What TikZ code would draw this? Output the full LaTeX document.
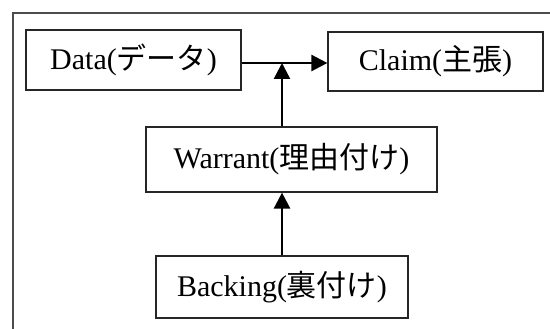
\documentclass[tikz,border=0pt]{standalone}
\usepackage{fontspec}
\setmainfont{Liberation Serif}
\newfontfamily\cjk{Noto Sans CJK JP}
\usetikzlibrary{arrows.meta}
\begin{document}
\begin{tikzpicture}[x=1pt,y=-1pt,
  box/.style={draw=black!85, line width=1.2pt, inner sep=0pt, font=\fontsize{30}{34}\selectfont},
  conn/.style={line width=2.5pt, -{Triangle[length=16pt,width=16pt]}},
  frame/.style={line width=1.2pt, draw=black!70}]
\useasboundingbox (0,0) rectangle (550,329);
\draw[frame] (13,329) -- (13,13) -- (550,13);
\node[box, minimum width=215pt, minimum height=60pt] (data) at (133.5,60) {Data({\cjk データ})};
\node[box, minimum width=215pt, minimum height=59pt] (claim) at (435.5,61.5) {Claim({\cjk 主張})};
\node[box, minimum width=291pt, minimum height=65pt] (warrant) at (291.5,159.5) {Warrant({\cjk 理由付け})};
\node[box, minimum width=252pt, minimum height=62pt] (backing) at (282,287) {Backing({\cjk 裏付け})};
\coordinate (j) at (282,63);
\draw[conn] (data.east |- j) -- (claim.west |- j);
\draw[conn] (warrant.north -| j) -- (j);
\draw[conn] (backing.north) -- (warrant.south -| backing.north);
\end{tikzpicture}
\end{document}
